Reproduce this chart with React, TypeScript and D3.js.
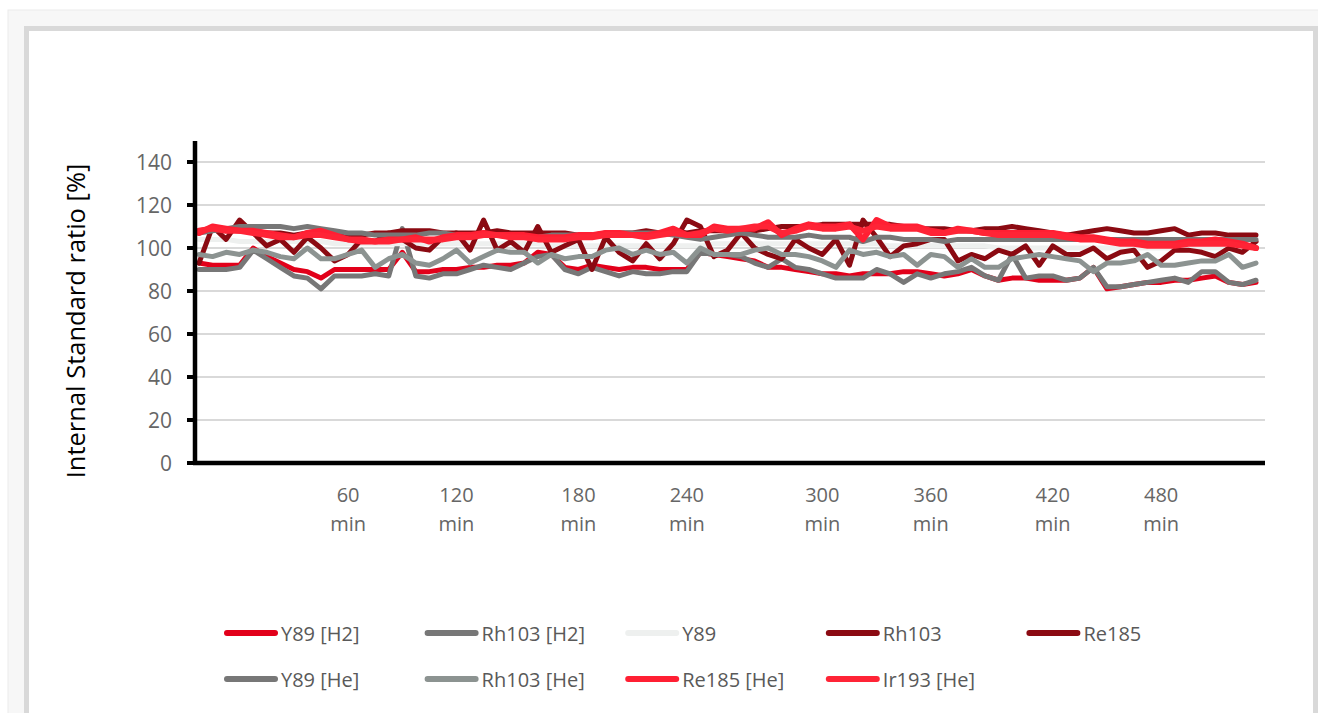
import React from "react";
import * as d3 from "d3";

const categories: number[] = Array.from({ length: 79 }, (_, i) => i);
const tickIndex = [11, 19, 28, 36, 46, 54, 63, 71];
const tickLabels = ["60", "120", "180", "240", "300", "360", "420", "480"];
const yTicks = [0, 20, 40, 60, 80, 100, 120, 140];

const y89H2 = [93,92,92,92,100,96,93,90,89,86, 90,90,90,90,90,98,89,89,90,90, 91,91,92,92,93,98,97,91,90,92, 91,90,91,91,90,90,90,98,97,96, 95,94,91,91,90,89,88,88,87,88, 88,88,89,89,88,87,88,90,87,85, 86,86,85,85,85,86,91,81,82,83, 84,84,85,85,86,87,84,83,84];
const rh103H2 = [90,90,90,91,99,95,91,87,86,81, 87,87,87,88,87,109,87,86,88,88, 90,92,91,90,93,96,97,90,88,91, 89,87,89,88,88,89,89,98,97,97, 96,93,91,95,91,90,88,86,86,86, 90,88,84,88,86,88,89,91,87,85, 97,86,87,87,85,86,91,82,82,83, 84,85,86,84,89,89,84,83,85];
const y89 = [104,104,104,103,103,103,103,103,103,103, 102,102,102,102,102,102,102,102,102,102, 102,102,102,102,102,102,101,101,101,101, 101,101,101,101,101,101,101,101,102,102, 102,102,102,102,102,102,102,102,102,102, 102,101,101,101,101,101,101,101,101,100, 100,100,100,100,100,100,100,100,100,100, 100,100,100,100,100,100,100,100,100];
const rh103 = [93,110,104,113,107,101,104,98,105,100, 94,97,104,103,107,104,100,99,105,107, 99,113,99,103,98,110,98,101,104,90, 105,98,94,102,95,102,113,110,96,99, 107,100,97,95,104,100,97,104,92,113, 105,96,101,102,104,104,94,97,95,99, 97,101,92,101,97,97,100,95,98,99, 91,94,99,99,98,96,100,98,103];
const re185 = [108,109,108,109,108,107,107,106,107,106, 106,106,106,107,107,108,108,108,107,107, 107,107,108,107,107,107,107,107,106,106, 107,107,107,108,107,108,107,108,108,108, 107,108,109,110,110,110,111,111,111,111, 111,111,110,109,109,109,108,108,109,109, 110,109,108,107,106,107,108,109,108,107, 107,108,109,106,107,107,106,106,106];
const y89He = [107,108,109,110,110,110,110,109,110,109, 108,107,107,106,106,106,106,107,107,106, 106,106,106,105,105,105,106,106,106,106, 106,107,107,107,107,106,105,104,105,106, 107,106,105,105,105,106,105,105,105,103, 105,105,104,104,104,103,104,104,104,104, 104,104,104,104,104,104,104,104,104,104, 104,104,104,104,104,104,104,104,104];
const rh103He = [97,96,98,97,99,98,96,95,100,95, 95,97,99,91,95,97,93,92,95,99, 93,96,99,98,98,93,97,95,96,96, 99,100,97,99,97,98,93,100,97,97, 97,99,100,97,97,96,94,91,99,97, 98,96,97,92,97,96,91,95,91,91, 95,96,97,96,95,94,89,93,93,94, 97,92,92,93,94,94,97,91,93];
const re185He = [107,110,109,108,108,107,106,105,107,108, 106,104,103,103,104,104,105,103,105,106, 106,107,106,106,106,105,105,105,106,106, 107,107,106,106,107,109,106,106,110,109, 109,109,112,106,109,111,110,110,111,104, 113,110,110,110,108,107,109,108,107,107, 107,107,107,107,106,105,105,104,103,103, 102,102,102,103,103,104,103,102,100];
const ir193He = [108,109,108,108,107,106,105,105,106,106, 105,104,104,103,103,104,104,104,104,105, 105,106,106,105,105,104,104,104,105,105, 106,106,106,105,106,107,106,107,109,108, 109,110,110,107,108,110,109,109,110,108, 110,109,109,109,107,107,108,108,107,106, 106,106,106,106,105,104,104,103,102,102, 101,101,101,102,102,102,102,101,100];

const seriesNames = ["Y89 [H2]", "Rh103 [H2]", "Y89", "Rh103", "Re185", "Y89 [He]", "Rh103 [He]", "Re185 [He]", "Ir193 [He]"];
const seriesValues = [y89H2, rh103H2, y89, rh103, re185, y89He, rh103He, re185He, ir193He];
const seriesColors = ["#e2001a", "#777777", "#eef0ef", "#8b0a12", "#8b0a12", "#777777", "#8c9391", "#ff1f33", "#ff2436"];
const seriesWidths = [5, 5, 5, 5, 5, 5, 5, 6, 6];

const FONT = "'Open Sans', 'Noto Sans', sans-serif";

export default function App() {
  const x = d3.scalePoint<number>().domain(categories).range([199, 1256]);
  const y = d3.scaleLinear().domain([0, 140]).range([463, 162]);
  const line = d3
    .line<number>()
    .x((_, i) => x(categories[i]) as number)
    .y((d) => y(d));

  const axisX = 195;
  const plotRight = 1265;

  return (
    <svg
      width={1318}
      height={713}
      style={{ position: "absolute", left: 0, top: 0, display: "block" }}
    >
      <rect x={8} y={10} width={1320} height={720} fill="#f7f7f7" stroke="#ececec" strokeWidth={1} />
      <rect x={26.5} y={28.5} width={1289} height={700} fill="#ffffff" stroke="#d9d9d9" strokeWidth={5} />

      {yTicks.slice(1).map((t) => (
        <line key={"g" + t} x1={axisX} x2={plotRight} y1={y(t)} y2={y(t)} stroke="#d9d9d9" strokeWidth={2} />
      ))}

      {yTicks.map((t) => (
        <text
          key={"yl" + t}
          x={172}
          y={y(t)}
          textAnchor="end"
          dominantBaseline="central"
          fontFamily={FONT}
          fontSize={21}
          fill="#666666"
        >
          {t}
        </text>
      ))}

      {seriesValues.map((vals, si) => (
        <path
          key={"s" + si}
          d={line(vals) || ""}
          fill="none"
          stroke={seriesColors[si]}
          strokeWidth={seriesWidths[si]}
          strokeLinejoin="round"
          strokeLinecap="round"
        />
      ))}

      <line x1={axisX} x2={axisX} y1={141} y2={465} stroke="#000" strokeWidth={4.5} />
      <line x1={axisX - 2} x2={plotRight} y1={463} y2={463} stroke="#000" strokeWidth={4.5} />
      {yTicks.map((t) => (
        <line key={"yt" + t} x1={187} x2={axisX} y1={y(t)} y2={y(t)} stroke="#000" strokeWidth={4} />
      ))}

      {tickIndex.map((ti, k) => (
        <g key={"xl" + k}>
          <text x={x(categories[ti]) as number} y={494} textAnchor="middle" dominantBaseline="central" fontFamily={FONT} fontSize={20} fill="#666666">
            {tickLabels[k]}
          </text>
          <text x={x(categories[ti]) as number} y={523} textAnchor="middle" dominantBaseline="central" fontFamily={FONT} fontSize={20} fill="#666666">
            min
          </text>
        </g>
      ))}

      <text
        transform="translate(75,321) rotate(-90)"
        textAnchor="middle"
        dominantBaseline="central"
        fontFamily={FONT}
        fontSize={25.5}
        fill="#000000"
      >
        Internal Standard ratio [%]
      </text>

      {seriesNames.map((name, i) => {
        const row = i < 5 ? 0 : 1;
        const col = i < 5 ? i : i - 5;
        const lx = 224 + col * 200.6;
        const ly = row === 0 ? 633 : 679;
        return (
          <g key={"lg" + i}>
            <line x1={lx + 3} x2={lx + 51} y1={ly} y2={ly} stroke={seriesColors[i]} strokeWidth={6} strokeLinecap="round" />
            <text x={lx + 57} y={ly} dominantBaseline="central" fontFamily={FONT} fontSize={20} fill="#595959">
              {name}
            </text>
          </g>
        );
      })}
    </svg>
  );
}
